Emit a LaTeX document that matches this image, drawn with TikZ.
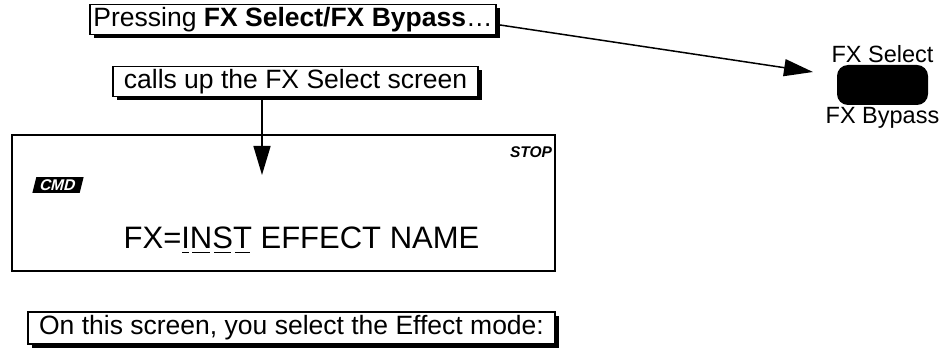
\documentclass[tikz,border=0pt]{standalone}
\usepackage{fontspec}
\setmainfont{Liberation Sans}
\usetikzlibrary{arrows.meta, positioning, shadows}
\newcommand{\lcdul}[1]{\setbox0\hbox{#1}\rlap{\kern0.1\wd0\raisebox{-4.5pt}{\rule{0.8\wd0}{1.8pt}}}#1}

\begin{document}
\begin{tikzpicture}[x=1pt, y=-1pt,
        callout/.style={rectangle, draw, line width=1.5pt, fill=white, inner sep=1pt, minimum height=30pt, font=\fontsize{26.5}{30}\selectfont,
          drop shadow={shadow xshift=3.5pt, shadow yshift=-3.5pt, fill=black, opacity=1}},
        lcd/.style={rectangle, draw, line width=2.2pt, minimum width=543pt, minimum height=136pt},
        arr/.style={-{Triangle[length=29pt, width=17pt]}, line width=1.5pt}]
        \useasboundingbox (0,0) rectangle (952,352);

        % Callouts
        \node[callout, minimum width=406pt] (press) at (293,19.5) {Pressing \textbf{FX Select/FX Bypass}\ldots};
        \node[callout, minimum width=365pt] (calls) at (295.5,81.5) {calls up the FX Select screen};
        \node[callout, minimum width=527pt, minimum height=32pt] (mode) at (291.5,328) {On this screen, you select the Effect mode:};

        % LCD screen
        \node[lcd] (screen) at (283.5,203) {};
        \node[font=\fontsize{15.5}{18}\selectfont\bfseries\itshape] (stop) at (531,152.5) {STOP};
        \node[fill=black, text=white, font=\fontsize{15.5}{18}\selectfont\bfseries, inner xsep=6pt, inner ysep=2.5pt,
              transform shape, xslant=0.25] (cmd) at (58,185) {CMD};
        \node[font=\fontsize{31}{34}\selectfont, anchor=base] (name) at (301.5,249) {FX=\lcdul{I}\lcdul{N}\lcdul{S}\lcdul{T} EFFECT NAME};

        % Button
        \node[fill=black, rounded corners=11pt, minimum width=91pt, minimum height=40pt] (button) at (882.5,85) {};
        \node[font=\fontsize{23.5}{27}\selectfont, above=-1pt of button] (sel) {FX Select};
        \node[font=\fontsize{23.5}{27}\selectfont, below=-1pt of button] (byp) {FX Bypass};

        % Connectors
        \coordinate (tip) at (813,72);
        \coordinate (drop) at (262,175);
        \draw[arr] ([yshift=-5pt]press.east) -- (tip);
        \draw[arr] (calls.south -| drop) -- (drop);
    \end{tikzpicture}
\end{document}
